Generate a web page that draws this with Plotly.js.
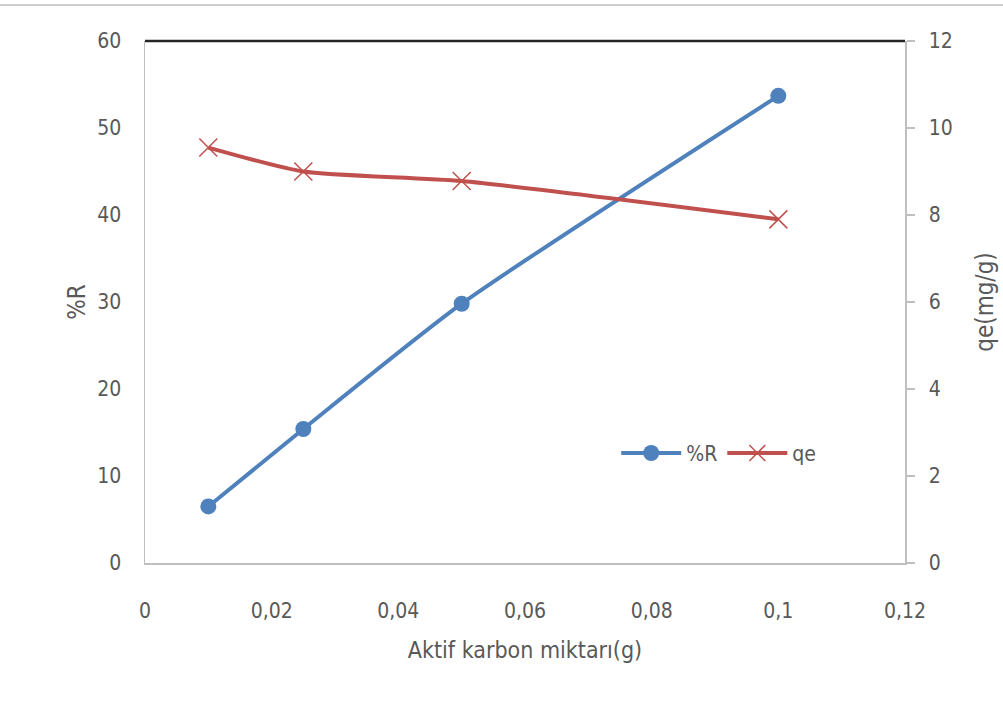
<!DOCTYPE html>
<html>
<head>
<meta charset="utf-8">
<script src="https://cdn.plot.ly/plotly-3.0.1.min.js"></script>
<style>
  html, body { margin: 0; padding: 0; background: #ffffff; }
  #chart { width: 1003px; height: 711px; }
</style>
</head>
<body>
<div id="chart"></div>
<script>
// Adsorbent amount (g)
const carbonAmount = [0.01, 0.025, 0.05, 0.1];
// Removal percentage, %R
const removalPct = [6.5, 15.4, 29.8, 53.7];
// Adsorption capacity, qe (mg/g)
const qeValues = [9.55, 9.0, 8.78, 7.9];

const xTickVals = [0, 0.02, 0.04, 0.06, 0.08, 0.1, 0.12];
const xTickText = ['0', '0,02', '0,04', '0,06', '0,08', '0,1', '0,12'];

const FONT = '"DejaVu Sans Condensed", "Liberation Sans Narrow", "Open Sans", sans-serif';
const GREY_TEXT = '#595959';

const traces = [
  {
    x: carbonAmount, y: removalPct, name: '%R', type: 'scatter', mode: 'lines+markers',
    line: { color: '#4f81bd', width: 4, shape: 'spline', smoothing: 0.6 },
    marker: { symbol: 'circle', size: 16, color: '#4f81bd' },
    yaxis: 'y'
  },
  {
    x: carbonAmount, y: qeValues, name: 'qe', type: 'scatter', mode: 'lines+markers',
    line: { color: '#c0504d', width: 4, shape: 'spline', smoothing: 0.6 },
    marker: { symbol: 'x-thin-open', size: 18, line: { color: '#d9787a', width: 1.5 } },
    yaxis: 'y2'
  }
];

const layout = {
  width: 1003, height: 711,
  margin: { l: 145, r: 98, t: 41, b: 148 },
  paper_bgcolor: '#ffffff', plot_bgcolor: '#ffffff',
  font: { family: FONT, size: 20, color: GREY_TEXT },
  showlegend: true,
  legend: {
    orientation: 'h', x: 0.62, y: 0.21, xanchor: 'left', yanchor: 'middle',
    itemwidth: 60,
    font: { family: FONT, size: 21, color: GREY_TEXT },
    bgcolor: 'rgba(0,0,0,0)'
  },
  xaxis: {
    range: [0, 0.12], tickvals: xTickVals, ticktext: xTickText,
    showgrid: false, zeroline: false, showline: true, linecolor: '#bfbfbf', linewidth: 1.5,
    ticks: '', ticklabelstandoff: 28,
    tickfont: { family: FONT, size: 21, color: GREY_TEXT },
    title: { text: 'Aktif karbon miktarı(g)', font: { family: FONT, size: 23, color: GREY_TEXT }, standoff: 20 }
  },
  yaxis: {
    range: [0, 60], dtick: 10,
    showgrid: false, zeroline: false, showline: true, linecolor: '#bfbfbf', linewidth: 1.5,
    ticks: '', ticklabelstandoff: 18,
    tickfont: { family: FONT, size: 21, color: GREY_TEXT },
    title: { text: '%R', font: { family: FONT, size: 24, color: GREY_TEXT }, standoff: 5 }
  },
  yaxis2: {
    range: [0, 12], dtick: 2, overlaying: 'y', side: 'right',
    showgrid: false, zeroline: false, showline: true, linecolor: '#bfbfbf', linewidth: 1.5,
    ticks: 'outside', ticklen: 8, tickcolor: '#bfbfbf', tickwidth: 1.5, ticklabelstandoff: 10,
    tickfont: { family: FONT, size: 21, color: GREY_TEXT },
    title: { text: 'qe(mg/g)', font: { family: FONT, size: 24, color: GREY_TEXT }, standoff: 24 }
  },
  shapes: [
    // dark top frame of the plot area
    { type: 'line', xref: 'paper', yref: 'paper', x0: 0, x1: 1, y0: 1, y1: 1,
      line: { color: '#262626', width: 2.5 } },
    // thin outer border line near the top of the page
    { type: 'line', xref: 'paper', yref: 'paper', x0: -0.2, x1: 1.14, y0: 1.069, y1: 1.069,
      line: { color: '#bfbfbf', width: 1.5 } }
  ]
};

Plotly.newPlot('chart', traces, layout, { displayModeBar: false, staticPlot: true });
</script>
</body>
</html>
